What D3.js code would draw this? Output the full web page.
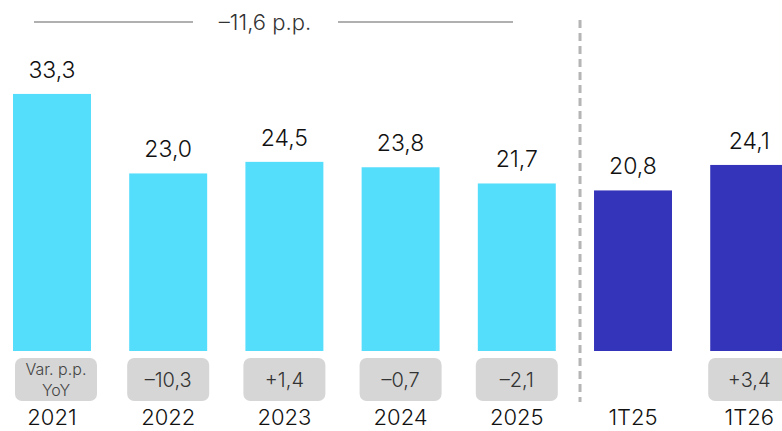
<!DOCTYPE html>
<html><head><meta charset="utf-8">
<script src="https://cdn.jsdelivr.net/npm/d3@7/dist/d3.min.js"></script>
<style>
html,body{margin:0;padding:0;background:#fff;overflow:hidden}
svg{display:block;font-family:Inter,"Noto Sans",sans-serif}
</style></head><body>
<svg id="c" width="782" height="431"></svg>
<script>
const categories = ["2021","2022","2023","2024","2025","1T25","1T26"];
const values = [33.3, 23.0, 24.5, 23.8, 21.7, 20.8, 24.1];
const periodType = ["annual","annual","annual","annual","annual","quarter","quarter"];
const yoyVar = [null, -10.3, 1.4, -0.7, -2.1, null, 3.4];
const yoyHeader = ["Var. p.p.", "YoY"];
const totalChange = -11.6;

const fmt = v => d3.format(".1f")(Math.abs(v)).replace(".", ",");
const fmtSigned = v => (v < 0 ? "\u2013" : "+") + fmt(v);

const svg = d3.select("#c");
const x = d3.scaleBand().domain(categories).range([13, 788.2]).paddingInner(0.329).paddingOuter(0);
const y = d3.scaleLinear().domain([0, 35]).range([351, 351 - 270.2]);
const color = d3.scaleOrdinal().domain(["annual","quarter"]).range(["#55DDFC","#3434BA"]);

// bars
svg.selectAll("rect.bar").data(categories).join("rect")
  .attr("class","bar")
  .attr("x", d => x(d)).attr("width", x.bandwidth())
  .attr("y", (d,i) => y(values[i])).attr("height", (d,i) => y(0) - y(values[i]))
  .attr("fill", (d,i) => color(periodType[i]));

// value labels
svg.selectAll("text.val").data(categories).join("text")
  .attr("class","val")
  .attr("x", d => x(d) + x.bandwidth()/2)
  .attr("y", (d,i) => y(values[i]) - 16)
  .attr("text-anchor","middle")
  .attr("font-size", 23).attr("font-weight", 300).attr("fill","#111")
  .text((d,i) => fmt(values[i]));

// YoY boxes
const boxW = 82, boxH = 43, boxY = 358;
const boxes = categories.map((c,i) => ({c, i, v: yoyVar[i]}))
  .filter(d => d.v !== null || d.i === 0);
svg.selectAll("rect.box").data(boxes).join("rect")
  .attr("class","box")
  .attr("x", d => x(d.c) + x.bandwidth()/2 - boxW/2 + (d.i === 0 ? 4 : 0))
  .attr("y", boxY).attr("width", boxW).attr("height", boxH)
  .attr("rx", 7).attr("fill","#D6D6D6");
boxes.forEach(d => {
  const cx = x(d.c) + x.bandwidth()/2 + (d.i === 0 ? 4 : 0);
  if (d.v === null) {
    yoyHeader.forEach((t,k) => {
      svg.append("text").attr("x", cx).attr("y", boxY + 17 + k*21)
        .attr("text-anchor","middle").attr("font-size", 16).attr("font-weight", 300)
        .attr("fill","#444").text(t);
    });
  } else {
    svg.append("text").attr("x", cx).attr("y", boxY + boxH/2 + 7)
      .attr("text-anchor","middle").attr("font-size", 20).attr("font-weight", 300)
      .attr("fill","#333").text(fmtSigned(d.v));
  }
});

// category axis labels
const xAxis = d3.axisBottom(x).tickSize(0).tickPadding(0);
const gx = svg.append("g").attr("transform","translate(0,409)").call(xAxis);
gx.select(".domain").remove();
gx.selectAll("text").attr("font-size", 22).attr("font-weight", 300).attr("fill","#111")
  .attr("font-family","Inter,'Noto Sans',sans-serif");

// separator dashed line
const sepX = x("1T25") - 14;
svg.append("line").attr("x1", sepX).attr("x2", sepX).attr("y1", 20).attr("y2", 402)
  .attr("stroke","#B5B5B5").attr("stroke-width", 3).attr("stroke-dasharray","8,5");

// top annotation
const topY = 22;
svg.append("line").attr("x1", 34).attr("x2", 193).attr("y1", topY).attr("y2", topY)
  .attr("stroke","#B0B0B0").attr("stroke-width", 2);
svg.append("line").attr("x1", 338).attr("x2", 513).attr("y1", topY).attr("y2", topY)
  .attr("stroke","#B0B0B0").attr("stroke-width", 2);
svg.append("text").attr("x", 265).attr("y", topY + 8).attr("text-anchor","middle")
  .attr("font-size", 22).attr("font-weight", 300).attr("fill","#333").text(fmtSigned(totalChange) + " p.p.");
</script>
</body></html>
